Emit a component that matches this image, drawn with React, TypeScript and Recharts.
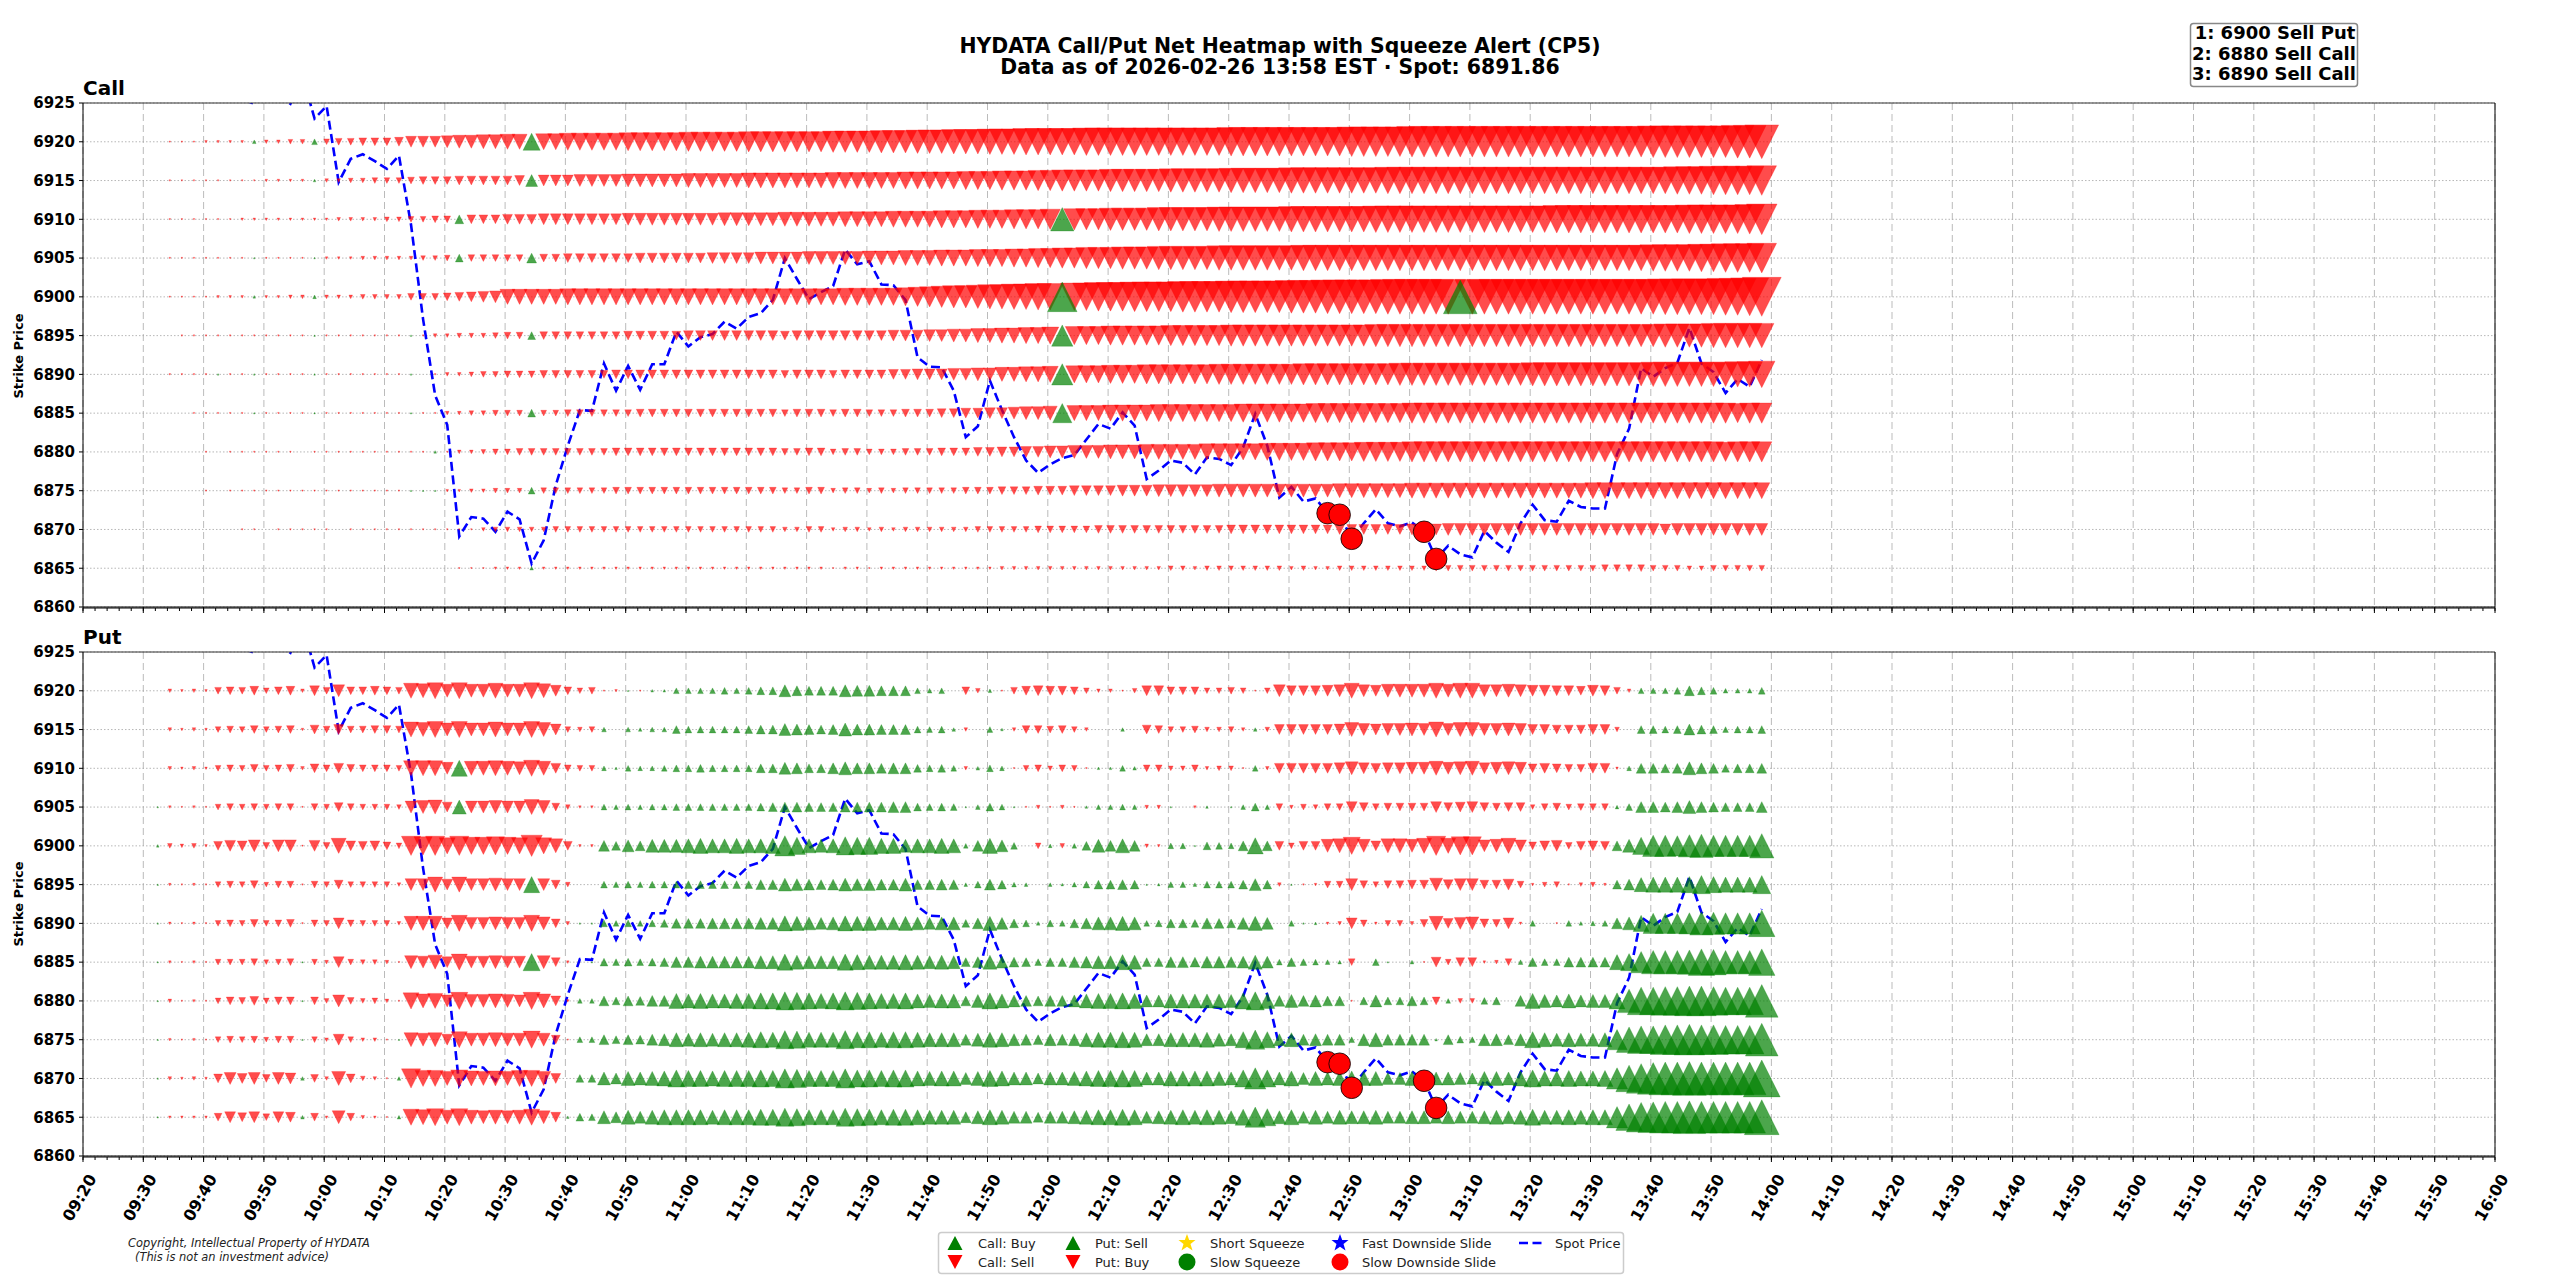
import { CartesianGrid, ComposedChart, Line, Scatter, XAxis, YAxis } from 'recharts';

// trading minutes since midnight, one reading every 2 minutes (09:32 .. 13:58)
const minutes = [
  572, 574, 576, 578, 580, 582, 584, 586, 588, 590, 592, 594, 596, 598,
  600, 602, 604, 606, 608, 610, 612, 614, 616, 618, 620, 622, 624, 626, 628, 630, 632, 634, 636, 638, 640, 642, 644, 646, 648, 650, 652, 654, 656, 658,
  660, 662, 664, 666, 668, 670, 672, 674, 676, 678, 680, 682, 684, 686, 688, 690, 692, 694, 696, 698, 700, 702, 704, 706, 708, 710, 712, 714, 716, 718,
  720, 722, 724, 726, 728, 730, 732, 734, 736, 738, 740, 742, 744, 746, 748, 750, 752, 754, 756, 758, 760, 762, 764, 766, 768, 770, 772, 774, 776, 778,
  780, 782, 784, 786, 788, 790, 792, 794, 796, 798, 800, 802, 804, 806, 808, 810, 812, 814, 816, 818, 820, 822, 824, 826, 828, 830, 832, 834, 836, 838,
];
// readings sit a little after the minute mark
const STAMP_OFFSET = 0.4;

const spot = [
  6930, 6929, 6928, 6927.5, 6927, 6926.5, 6926, 6925.5, 6924.9, 6926.5, 6926, 6924.9, 6928.5, 6923,
  6924.6, 6914.8, 6917.8, 6918.4, 6917.5, 6916.5, 6918.2, 6909.3, 6897.1, 6887.3, 6883.5, 6869.1, 6871.6, 6871.4, 6869.7, 6872.3, 6871.3, 6865.6, 6868.6, 6875.7, 6880.8, 6885.4, 6885.3, 6891.4, 6887.9, 6891.1, 6888, 6891.3, 6891.3, 6895.5,
  6893.6, 6894.8, 6895.2, 6896.8, 6895.9, 6897.4, 6897.9, 6899.6, 6905, 6902.3, 6899.7, 6900.6, 6901.4, 6906.1, 6904.2, 6904.6, 6901.6, 6901.5, 6899.6, 6892.2, 6891, 6890.9, 6887.9, 6881.9, 6883.3, 6889.2, 6885.4, 6881.9, 6878.9, 6877.3,
  6878.4, 6879.2, 6879.6, 6881.6, 6883.6, 6883, 6885.1, 6883.4, 6876.5, 6877.6, 6878.9, 6878.6, 6877.1, 6879.3, 6879.1, 6878.3, 6880.6, 6884.9, 6880.8, 6874.1, 6875.5, 6873.6, 6874, 6872.1, 6871.9, 6868.8, 6870.8, 6872.6, 6870.8, 6870.4,
  6870.9, 6869.7, 6866.2, 6867.9, 6866.8, 6866.4, 6869.8, 6868.3, 6867.1, 6870.8, 6873.2, 6871.2, 6871, 6873.7, 6872.9, 6872.7, 6872.7, 6879.7, 6883, 6890.8, 6889.7, 6890.8, 6891.5, 6896, 6891.4, 6890.3, 6887.6, 6889.4, 6888.4, 6891.86,
];

const slideMinutes = [766, 768, 770, 782, 784];
const slideSpot = [6872.1, 6871.9, 6868.8, 6869.7, 6866.2];

const strikes = [6920, 6915, 6910, 6905, 6900, 6895, 6890, 6885, 6880, 6875, 6870, 6865];
const strikeTicks = [6860, 6865, 6870, 6875, 6880, 6885, 6890, 6895, 6900, 6905, 6910, 6915, 6920, 6925];
const timeTicks = [560, 570, 580, 590, 600, 610, 620, 630, 640, 650, 660, 670, 680, 690, 700, 710, 720, 730, 740, 750, 760, 770, 780, 790, 800, 810, 820, 830, 840, 850, 860, 870, 880, 890, 900, 910, 920, 930, 940, 950, 960];
const timeLabels = ['09:20', '09:30', '09:40', '09:50', '10:00', '10:10', '10:20', '10:30', '10:40', '10:50', '11:00', '11:10', '11:20', '11:30', '11:40', '11:50', '12:00', '12:10', '12:20', '12:30', '12:40', '12:50', '13:00', '13:10', '13:20', '13:30', '13:40', '13:50', '14:00', '14:10', '14:20', '14:30', '14:40', '14:50', '15:00', '15:10', '15:20', '15:30', '15:40', '15:50', '16:00'];
const minorTicks = Array.from({ length: 201 }, (_, i) => 560 + i * 2);

const call6920 = [
  0, -1, -1, -1, -2, -2, -2, -2, 3, -3, -3, -4, -4, 5,
  -5, -6, -6, -7, -7, -7, -8, -10, -10, -10, -11, -12, -12, -13, -13, -14, -14, 16, -15, -15, -16, -16, -16, -16, -16, -17, -17, -17, -17, -17,
  -18, -18, -18, -18, -18, -19, -19, -19, -19, -19, -19, -19, -20, -20, -20, -20, -21, -21, -21, -22, -22, -22, -23, -23, -23, -24, -24, -24, -25, -25,
  -25, -25, -25, -26, -26, -26, -26, -26, -26, -26, -26, -26, -26, -26, -26, -27, -27, -27, -27, -27, -27, -27, -27, -27, -27, -28, -28, -28, -28, -28,
  -29, -29, -29, -29, -29, -29, -29, -29, -29, -29, -29, -29, -29, -29, -29, -29, -29, -29, -29, -29, -30, -30, -30, -30, -30, -30, -30, -31, -31, -32,
];
const call6915 = [
  0, -1, -1, -1, -1, -1, -1, -1, -1, -2, -2, -2, -2, 2,
  -3, -3, -4, -4, -5, -5, -5, -6, -7, -7, -7, -8, -8, -8, -8, -8, -9, 11, -10, -10, -10, -11, -11, -11, -11, -12, -12, -12, -12, -12,
  -13, -13, -13, -13, -13, -14, -14, -14, -14, -14, -14, -14, -15, -15, -15, -15, -15, -15, -16, -16, -16, -16, -16, -17, -17, -17, -18, -18, -18, -19,
  -19, -20, -20, -20, -20, -21, -21, -21, -21, -21, -22, -22, -22, -22, -22, -23, -23, -23, -23, -23, -24, -24, -24, -24, -24, -24, -24, -24, -25, -25,
  -25, -25, -25, -25, -25, -25, -25, -25, -25, -25, -25, -25, -25, -25, -25, -25, -25, -25, -25, -25, -25, -25, -26, -26, -26, -27, -27, -27, -27, -28,
];
const call6910 = [
  0, -1, -1, -1, -1, -1, -1, -2, -2, -2, -2, -2, -2, -2,
  -2, -3, -3, -3, -3, -4, -4, -5, -5, -6, -6, 8, -8, -8, -8, -9, -9, -9, -10, -10, -10, -10, -10, -10, -10, -11, -11, -11, -11, -11,
  -11, -11, -11, -12, -12, -12, -12, -12, -13, -13, -13, -13, -13, -14, -14, -14, -14, -15, -15, -15, -15, -16, -16, -16, -17, -17, -17, -18, -18, -18,
  -19, 22, -20, -20, -20, -21, -21, -21, -21, -22, -22, -22, -22, -22, -23, -23, -23, -23, -23, -23, -24, -24, -24, -24, -24, -24, -24, -25, -25, -25,
  -25, -25, -25, -25, -25, -25, -25, -25, -25, -25, -25, -25, -26, -26, -26, -26, -26, -26, -26, -26, -26, -26, -26, -27, -27, -27, -27, -27, -28, -29,
];
const call6905 = [
  0, -1, -1, -1, -1, -1, -1, -1, 1, -1, -1, -1, -1, 1,
  -2, -2, -2, -3, -3, -3, -3, -3, -4, -4, -5, 7, -6, -6, -6, -6, -6, 9, -7, -7, -8, -8, -8, -8, -8, -8, -9, -9, -9, -9,
  -9, -9, -10, -10, -10, -10, -11, -11, -11, -11, -12, -12, -12, -12, -12, -13, -13, -13, -14, -14, -14, -15, -15, -15, -16, -16, -16, -17, -17, -18,
  -18, -19, -19, -20, -20, -20, -21, -21, -21, -22, -22, -22, -22, -22, -23, -23, -23, -23, -23, -23, -23, -24, -24, -24, -24, -24, -24, -24, -24, -24,
  -24, -24, -24, -24, -24, -24, -24, -24, -24, -24, -24, -24, -24, -24, -24, -24, -24, -24, -24, -24, -25, -25, -25, -25, -26, -26, -27, -27, -27, -28,
];
const call6900 = [
  0, -1, -1, -1, -1, -2, -2, -2, 2, -2, -2, -3, -3, 3,
  -3, -3, -3, -4, -4, -4, -4, -6, -6, -6, -7, -8, -9, -10, -11, -14, -14, -14, -14, -14, -15, -15, -15, -15, -15, -15, -15, -15, -15, -15,
  -15, -15, -15, -15, -15, -15, -15, -15, -15, -15, -15, -15, -15, -16, -16, -16, -16, -16, -17, -18, -19, -20, -21, -21, -22, -23, -23, -24, -24, -25,
  -25, 28, -26, -26, -27, -27, -27, -28, -28, -28, -28, -29, -29, -29, -29, -30, -30, -30, -30, -30, -31, -31, -31, -32, -32, -32, -32, -32, -33, -33,
  -33, -33, -33, -33, 32, -33, -33, -33, -33, -33, -33, -33, -33, -33, -33, -33, -33, -33, -33, -33, -33, -34, -34, -34, -34, -34, -35, -35, -36, -37,
];
const call6895 = [
  0, 0, -1, -1, -1, -1, -1, -1, -1, -1, -1, -1, -1, 1,
  -1, -1, -1, -1, -1, -1, -1, 1, -1, -3, -3, -4, -4, -4, -5, -6, -6, 7, -7, -7, -7, -7, -7, -7, -7, -8, -8, -8, -8, -8,
  -9, -9, -9, -9, -9, -9, -9, -9, -8, -9, -9, -9, -9, -9, -9, -9, -9, -10, -10, -10, -11, -11, -12, -12, -13, -13, -14, -14, -15, -15,
  -16, 20, -17, -17, -17, -18, -18, -18, -18, -18, -19, -19, -19, -19, -19, -20, -20, -20, -20, -20, -20, -20, -20, -20, -20, -20, -20, -21, -21, -21,
  -21, -21, -21, -21, -21, -21, -21, -21, -21, -21, -21, -21, -21, -21, -21, -21, -21, -21, -21, -21, -21, -22, -22, -22, -22, -23, -23, -23, -23, -23,
];
const call6890 = [
  0, -1, -1, -1, -1, 1, -1, -1, 1, -1, -1, -1, -1, 1,
  -1, -1, -1, -1, -1, -1, -1, 1, 0, -1, -3, -3, -4, -5, -5, -6, -6, -6, -7, -7, -7, -7, -7, -7, -8, -8, -8, -8, -8, -8,
  -8, -8, -8, -8, -8, -8, -8, -8, -7, -8, -8, -8, -7, -8, -8, -8, -8, -9, -9, -10, -10, -10, -11, -11, -12, -12, -13, -13, -14, -14,
  -15, 20, -16, -16, -16, -17, -17, -17, -18, -18, -18, -18, -18, -18, -19, -19, -19, -19, -19, -19, -19, -20, -20, -20, -20, -20, -20, -20, -20, -21,
  -21, -21, -21, -21, -21, -21, -21, -21, -21, -21, -22, -22, -22, -22, -22, -22, -22, -22, -22, -22, -23, -23, -23, -23, -23, -23, -23, -24, -24, -25,
];
const call6885 = [
  0, 0, 0, -1, -1, -1, -1, -1, 1, -1, -1, -1, -1, 1,
  -1, -1, -1, -1, -1, -1, -1, 1, -1, -1, -3, -3, -4, -4, -5, -5, -5, 7, -5, -5, -6, -6, -6, -6, -6, -6, -7, -7, -7, -7,
  -7, -7, -7, -7, -7, -7, -7, -7, -6, -7, -7, -7, -6, -7, -7, -6, -6, -6, -7, -7, -7, -8, -8, -9, -9, -10, -10, -11, -12, -12,
  -13, 18, -14, -14, -14, -15, -15, -15, -15, -16, -16, -16, -16, -16, -16, -16, -17, -17, -17, -17, -17, -17, -18, -18, -18, -18, -18, -18, -18, -18,
  -19, -19, -19, -19, -19, -19, -19, -19, -19, -19, -19, -19, -19, -19, -19, -19, -19, -19, -19, -19, -19, -19, -19, -19, -19, -19, -19, -18, -19, -19,
];
const call6880 = [
  0, 0, 0, 0, -1, 0, -1, -1, -1, -1, -1, -1, 0, -1,
  -1, -1, -1, -1, -1, -1, -1, -1, -1, 2, -1, -3, -3, -4, -5, -5, -6, -6, -6, -6, -6, -6, -6, -6, -7, -7, -7, -7, -7, -7,
  -7, -7, -7, -7, -7, -7, -7, -7, -6, -6, -7, -7, -5, -6, -6, -5, -5, -5, -6, -6, -6, -7, -7, -7, -8, -8, -9, -9, -10, -10,
  -11, -11, -12, -12, -12, -13, -13, -13, -14, -14, -14, -14, -14, -15, -15, -15, -15, -15, -16, -16, -16, -16, -17, -17, -17, -17, -18, -18, -18, -18,
  -19, -19, -19, -19, -19, -19, -19, -19, -19, -19, -19, -19, -19, -19, -19, -19, -19, -19, -19, -19, -19, -19, -19, -19, -19, -19, -18, -19, -19, -19,
];
const call6875 = [
  0, 0, 0, 0, -1, 0, -1, -1, -1, -1, -1, -1, -1, -1,
  -1, -1, -1, -1, -1, -1, -1, 1, 1, 1, -2, -2, -3, -3, -4, -4, -4, 6, -5, -5, -5, -5, -5, -5, -6, -6, -6, -6, -6, -6,
  -6, -6, -6, -6, -6, -6, -6, -6, -5, -5, -6, -6, -4, -5, -5, -4, -5, -4, -5, -5, -5, -5, -5, -6, -6, -6, -7, -7, -7, -8,
  -8, -8, -9, -9, -9, -9, -10, -10, -10, -11, -11, -11, -11, -11, -12, -12, -12, -12, -12, -12, -12, -12, -12, -12, -13, -13, -13, -13, -13, -13,
  -14, -14, -14, -14, -14, -14, -14, -14, -14, -14, -14, -14, -14, -14, -14, -15, -15, -15, -15, -15, -15, -15, -15, -15, -15, -15, -15, -15, -15, -15,
];
const call6870 = [
  0, 0, 0, 0, 0, 0, 0, -1, -1, 0, -1, -1, -1, -1,
  -1, 0, -1, -1, -1, -1, -1, -1, -1, -1, -1, -1, -1, -3, -4, -4, -4, -4, -4, -5, -5, -5, -5, -5, -5, -5, -5, -5, -5, -5,
  -5, -5, -5, -5, -5, -5, -5, -5, -4, -4, -5, -5, -3, -4, -4, -3, -4, -3, -4, -4, -4, -4, -4, -4, -5, -5, -5, -5, -5, -6,
  -6, -6, -6, -6, -7, -7, -7, -7, -7, -7, -7, -7, -7, -7, -7, -8, -8, -8, -8, -8, -8, -8, -8, -8, -9, -9, -9, -9, -9, -9,
  -10, -10, -10, -11, -11, -11, -11, -11, -11, -11, -11, -11, -11, -11, -11, -11, -11, -11, -11, -11, -11, -10, -11, -11, -11, -11, -11, -11, -11, -11,
];
const call6865 = [
  0, 0, 0, 0, 0, 0, 0, 0, 0, 0, 0, 0, 0, 0,
  0, 0, 0, 0, 0, 0, 0, 0, 0, 0, 0, -1, -1, -1, -2, -2, -2, 3, -2, -2, -2, -2, -2, -2, -2, -2, -2, -2, -2, -2,
  -2, -2, -2, -2, -2, -2, -2, -2, -2, -2, -2, -2, -1, -2, -2, -1, -2, -2, -2, -2, -2, -2, -2, -2, -2, -2, -3, -3, -3, -3,
  -3, -3, -3, -3, -3, -3, -3, -3, -3, -3, -4, -4, -3, -4, -4, -4, -4, -4, -4, -4, -3, -4, -3, -3, -4, -4, -4, -4, -4, -4,
  -4, -4, -5, -5, -5, -5, -5, -5, -5, -5, -5, -5, -5, -5, -5, -5, -6, -6, -6, -6, -5, -5, -5, -4, -4, -5, -5, -5, -5, -5,
];

const put6920 = [
  0, -3, -2, -3, -2, -6, -7, -6, -8, -5, -7, -8, -3, -9, -6, -11, -7, -7, -8, -7, -6, -14, -13, -15, -12, -15, -12, -12, -14, -12, -12, -15, -13, -10, -7, -5, -6, -1, -2, 1, -1, 2, 2,
  5, 5, 5, 5, 6, 5, 6, 7, 7, 11, 9, 8, 8, 8, 11, 10, 10, 9, 9, 9, 5, 4, 5, 0, -7, -4, 3, -1, -6, -8, -9, -8, -8, -7, -5, -3, -3, -1, -4, -9, -9, -7, -7,
  -7, -5, -5, -6, -5, -1, -5, -11, -9, -9, -9, -10, -11, -14, -11, -10, -12, -12, -12, -12, -14, -12, -14, -14, -11, -11, -12, -11, -10, -10, -9, -9, -8, -10, -9, -6, -3, 5, 5, 5, 6, 9, 7, 6, 4, 4, 4, 6,
];
const put6915 = [
  0, -3, -2, -3, -2, -5, -6, -5, -7, -5, -6, -7, -2, -8, -6, -9, -6, -6, -7, -7, -6, -14, -13, -15, -12, -15, -12, -12, -14, -12, -12, -15, -13, -10, -5, -4, -5, 4, 0, 4, 3, 4, 4,
  7, 6, 6, 6, 6, 6, 7, 8, 8, 11, 10, 9, 8, 9, 12, 10, 10, 9, 9, 9, 6, 5, 6, 3, -3, 0, 5, 2, -3, -7, -7, -6, -7, -5, -3, 0, 0, 3, 0, -8, -7, -5, -5,
  -6, -4, -4, -5, -3, 3, -4, -9, -9, -9, -9, -9, -10, -13, -11, -10, -11, -11, -12, -11, -14, -11, -13, -13, -11, -11, -12, -11, -9, -9, -8, -8, -8, -9, -9, -4, 0, 7, 7, 6, 7, 10, 8, 7, 5, 6, 6, 7,
];
const put6910 = [
  0, -3, -2, -3, -2, -5, -6, -5, -7, -5, -6, -7, -3, -8, -6, -9, -7, -6, -6, -6, -5, -14, -14, -14, -11, 15, -13, -13, -14, -13, -12, -15, -13, -9, -6, -5, -5, 4, 2, 5, 4, 4, 5,
  6, 6, 7, 6, 6, 6, 6, 8, 8, 11, 10, 8, 8, 10, 12, 10, 10, 9, 10, 10, 7, 6, 7, 5, -3, 3, 6, 4, -1, -5, -6, -4, -6, -5, -1, 2, 2, 5, 3, -6, -6, -4, -4,
  -6, -3, -4, -4, -1, 5, -3, -9, -9, -9, -9, -9, -10, -12, -10, -9, -10, -10, -11, -11, -13, -11, -12, -13, -10, -11, -12, -11, -8, -9, -8, -7, -7, -9, -9, -2, 4, 9, 9, 8, 9, 12, 10, 9, 7, 8, 8, 9,
];
const put6905 = [
  1, -2, -1, -2, -1, -5, -6, -5, -6, -5, -6, -6, -1, -6, -5, -8, -6, -5, -5, -5, -4, -11, -12, -13, -9, 13, -11, -11, -12, -11, -11, -14, -12, -7, -4, -2, -2, 5, 4, 5, 4, 5, 5,
  6, 6, 6, 6, 6, 6, 6, 7, 8, 9, 9, 8, 8, 8, 9, 9, 9, 9, 10, 10, 7, 6, 7, 6, 1, 4, 7, 5, 1, -1, -3, -1, -3, -1, 2, 4, 4, 5, 4, -3, -3, 1, 0,
  -2, 2, 0, 1, 4, 7, 4, -6, -3, -5, -4, -6, -6, -10, -8, -6, -7, -7, -7, -7, -10, -8, -9, -10, -8, -7, -8, -8, -4, -6, -7, -5, -6, -6, -6, 3, 6, 10, 10, 9, 10, 12, 10, 9, 8, 8, 8, 10,
];
const put6900 = [
  2, -4, -3, -4, -2, -8, -10, -9, -11, -6, -11, -11, -1, -10, -6, -14, -9, -8, -9, -7, -5, -18, -17, -18, -15, -18, -16, -16, -17, -16, -15, -20, -15, -13, -8, -2, -2, 10, 8, 11, 9, 12, 12,
  12, 13, 14, 13, 13, 14, 13, 13, 14, 19, 16, 13, 12, 13, 17, 16, 16, 14, 14, 12, 13, 13, 14, 13, 4, 10, 14, 11, 6, 0, -5, 3, -4, 4, 8, 12, 10, 13, 10, -3, -2, 5, 5,
  1, 7, 6, 5, 9, 15, 9, -8, -5, -8, -8, -12, -13, -16, -12, -9, -13, -13, -12, -14, -18, -14, -17, -17, -11, -12, -14, -11, -7, -9, -10, -6, -8, -9, -8, 9, 12, 16, 20, 20, 19, 21, 22, 20, 20, 20, 20, 23,
];
const put6895 = [
  1, -2, -1, -2, -1, -5, -6, -5, -7, -4, -6, -6, -1, -6, -5, -8, -5, -5, -5, -5, -3, -11, -11, -14, -10, -14, -11, -11, -12, -11, -11, 15, -11, -8, -4, 0, 0, 6, 5, 6, 5, 6, 6,
  6, 7, 7, 7, 7, 7, 7, 9, 9, 12, 11, 10, 9, 10, 12, 11, 11, 10, 10, 12, 9, 9, 10, 9, 3, 6, 10, 8, 4, 3, 0, 3, 2, 4, 6, 8, 8, 9, 8, 1, 2, 5, 5,
  3, 6, 6, 6, 8, 11, 8, -3, 1, -1, -2, -6, -6, -11, -7, -5, -7, -7, -8, -8, -12, -9, -11, -11, -8, -8, -10, -6, -2, -4, -5, -1, -3, -4, -2, 8, 10, 13, 14, 14, 14, 15, 17, 15, 14, 14, 14, 17,
];
const put6890 = [
  1, -2, -1, -2, -1, -5, -6, -5, -7, -5, -6, -7, -1, -6, -5, -10, -6, -5, -5, -5, -3, -13, -13, -13, -10, -15, -11, -11, -12, -11, -11, -15, -12, -8, -3, 1, 1, 6, 5, 6, 5, 6, 7,
  9, 9, 9, 10, 10, 10, 10, 11, 11, 14, 13, 12, 11, 12, 14, 13, 13, 12, 12, 13, 12, 11, 12, 12, 7, 10, 13, 11, 8, 6, 3, 6, 5, 8, 10, 12, 12, 13, 12, 5, 6, 8, 8,
  7, 10, 9, 8, 11, 13, 11, 0, 5, 1, 2, -2, -3, -10, -6, -2, -5, -5, -3, -7, -13, -9, -11, -12, -8, -7, -10, -2, 5, 0, -1, 5, 3, 4, 5, 10, 12, 15, 19, 19, 19, 20, 22, 21, 20, 20, 20, 25,
];
const put6885 = [
  1, -2, -1, -2, -1, -5, -5, -5, -6, -4, -5, -6, 1, -5, -3, -10, -5, -4, -4, -3, -1, -12, -11, -13, -10, -15, -11, -11, -12, -11, -11, 16, -12, -8, -2, 0, 1, 7, 6, 7, 6, 7, 8,
  10, 10, 11, 11, 11, 11, 11, 12, 12, 15, 13, 12, 12, 12, 15, 14, 13, 13, 13, 14, 13, 12, 13, 12, 8, 10, 13, 11, 9, 8, 6, 8, 8, 10, 11, 12, 12, 14, 13, 8, 8, 10, 10,
  9, 11, 11, 10, 11, 13, 11, 5, 8, 6, 5, 4, 3, -6, 0, 6, 1, 0, 3, -1, -9, -5, -8, -8, -2, -3, -6, 4, 8, 6, 6, 9, 9, 9, 9, 14, 16, 20, 22, 22, 22, 23, 25, 24, 22, 22, 22, 25,
];
const put6880 = [
  1, -3, -1, -2, -1, -5, -7, -6, -8, -5, -7, -7, 1, -7, -4, -11, -6, -4, -5, -3, -1, -15, -13, -14, -11, -16, -12, -12, -13, -12, -11, -16, -13, -9, -2, 4, 4, 9, 7, 9, 8, 10, 10,
  14, 13, 14, 13, 13, 14, 14, 15, 15, 17, 16, 15, 14, 15, 17, 16, 15, 14, 14, 15, 13, 12, 13, 13, 9, 12, 15, 13, 11, 10, 9, 10, 10, 11, 13, 14, 14, 15, 14, 11, 11, 13, 13,
  13, 13, 13, 12, 15, 17, 14, 10, 12, 10, 11, 9, 9, -1, 7, 11, 7, 7, 9, 7, -7, 4, -4, -4, 6, 7, 0, 10, 14, 12, 11, 13, 11, 12, 12, 15, 22, 26, 26, 27, 27, 28, 28, 27, 26, 26, 26, 31,
];
const put6875 = [
  1, -2, -1, -2, -1, -5, -6, -5, -6, -4, -6, -6, 1, -5, -3, -10, -5, -3, -3, -1, 1, -13, -12, -13, -10, -15, -12, -12, -13, -12, -12, -16, -12, -8, -1, 5, 5, 9, 7, 9, 8, 10, 11,
  13, 12, 13, 12, 13, 13, 14, 15, 14, 17, 16, 14, 14, 14, 17, 15, 15, 14, 15, 15, 14, 13, 13, 13, 10, 12, 14, 13, 11, 10, 9, 11, 10, 11, 13, 14, 14, 15, 14, 11, 11, 13, 13,
  13, 14, 12, 11, 15, 18, 15, 11, 13, 10, 11, 10, 10, 5, 11, 13, 10, 10, 10, 10, 2, 9, 6, 5, 11, 11, 9, 11, 15, 13, 12, 13, 12, 12, 13, 19, 24, 26, 26, 28, 28, 29, 28, 28, 27, 27, 27, 31,
];
const put6870 = [
  1, -3, -2, -3, -2, -8, -11, -9, -11, -7, -11, -10, 3, -7, -3, -13, -8, -4, -3, -1, 3, -18, -15, -15, -13, -16, -14, -13, -14, -13, -15, -15, -13, -9, 0, 7, 7, 12, 10, 13, 12, 13, 14,
  16, 15, 15, 14, 15, 15, 15, 16, 15, 18, 17, 15, 15, 15, 18, 16, 16, 15, 16, 16, 14, 13, 14, 14, 11, 13, 15, 14, 12, 12, 10, 12, 12, 13, 14, 15, 15, 16, 15, 12, 12, 14, 14,
  14, 14, 13, 12, 16, 20, 16, 12, 14, 11, 13, 12, 13, 14, 13, 13, 11, 11, 13, 13, 12, 12, 11, 10, 13, 13, 12, 14, 16, 14, 14, 15, 14, 14, 15, 20, 25, 28, 30, 31, 31, 32, 31, 31, 31, 31, 31, 35,
];
const put6865 = [
  1, -2, -2, -2, -2, -7, -10, -8, -10, -6, -10, -9, 3, -7, -2, -12, -7, -3, -2, -1, 3, -15, -14, -16, -13, -16, -13, -12, -13, -12, -13, -15, -12, -9, 2, 7, 6, 12, 10, 13, 11, 13, 14,
  14, 14, 14, 13, 14, 14, 14, 15, 15, 17, 16, 14, 14, 14, 17, 16, 15, 14, 15, 15, 14, 13, 13, 13, 10, 12, 14, 13, 11, 11, 9, 11, 11, 12, 13, 14, 14, 15, 14, 11, 12, 13, 14,
  13, 14, 13, 12, 15, 19, 16, 12, 14, 11, 13, 11, 13, 12, 12, 13, 11, 11, 12, 12, 11, 12, 11, 11, 12, 13, 12, 13, 15, 13, 13, 14, 13, 14, 14, 20, 25, 28, 29, 30, 30, 31, 30, 30, 30, 30, 30, 33,
];

const callRows = [call6920, call6915, call6910, call6905, call6900, call6895, call6890, call6885, call6880, call6875, call6870, call6865];
const putRows = [put6920, put6915, put6910, put6905, put6900, put6895, put6890, put6885, put6880, put6875, put6870, put6865];

const spotData = minutes.map((t, i) => ({ t: t + STAMP_OFFSET, spot: spot[i] }));
const slideData = slideMinutes.map((t, i) => ({ t: t + STAMP_OFFSET, spot: slideSpot[i] }));

function buildMarks(rows: number[][]) {
  const marks: { t: number; strike: number; net: number }[] = [];
  rows.forEach((row, r) => {
    row.forEach((net, i) => {
      if (net !== 0) marks.push({ t: minutes[i] + STAMP_OFFSET, strike: strikes[r], net });
    });
  });
  return marks;
}

const RED = '#ff0000';
const GREEN = '#008000';

function FlowMark(props: any) {
  const { cx, cy, payload } = props;
  const w = Math.abs(payload.net) * 1.04 + 0.5;
  const h = w / 2;
  const color = payload.net > 0 ? GREEN : RED;
  const d = payload.net > 0
    ? `M${cx - h},${cy + h}L${cx + h},${cy + h}L${cx},${cy - h}Z`
    : `M${cx - h},${cy - h}L${cx + h},${cy - h}L${cx},${cy + h}Z`;
  return <path d={d} fill={color} fillOpacity={0.7} stroke={color} strokeOpacity={0.25} strokeWidth={1} />;
}

function SlideMark(props: any) {
  return <circle cx={props.cx} cy={props.cy} r={10.8} fill={RED} stroke="#000" strokeWidth={0.8} />;
}

function TimeTick(props: any) {
  const { x, y, payload } = props;
  const idx = timeTicks.indexOf(payload.value);
  const cy = y + 34;
  return (
    <text
      x={x - 3}
      y={cy}
      dy={5}
      textAnchor="middle"
      transform={`rotate(-60 ${x - 3} ${cy})`}
      fontSize={16}
      fontWeight="bold"
      fontFamily="DejaVu Sans"
      fill="#000"
    >
      {timeLabels[idx]}
    </text>
  );
}

function NoTick() {
  return <g />;
}

const strikeTickStyle = { fontSize: 15, fontWeight: 'bold', fontFamily: 'DejaVu Sans', fill: '#000' };

function Panel({ top, height, marginTop, marginBottom, rows, labels }: any) {
  const marks = buildMarks(rows);
  const sells = marks.filter((m) => m.net < 0);
  const buys = marks.filter((m) => m.net > 0);
  return (
    <div style={{ position: 'absolute', left: 0, top }}>
      <ComposedChart
        width={2560}
        height={height}
        margin={{ top: marginTop, right: 64, bottom: marginBottom, left: 82 }}
      >
        <CartesianGrid vertical={false} stroke="#999" strokeOpacity={0.7} strokeDasharray="1.5 2" syncWithTicks />
        <CartesianGrid horizontal={false} stroke="#aaa" strokeOpacity={0.8} strokeDasharray="7 4" syncWithTicks />
        <XAxis
          dataKey="t"
          type="number"
          domain={[560, 960]}
          ticks={timeTicks}
          interval={0}
          allowDataOverflow
          height={1}
          stroke="#000"
          tickSize={6}
          tick={labels ? <TimeTick /> : <NoTick />}
        />
        <XAxis
          xAxisId="minor"
          dataKey="t"
          type="number"
          domain={[560, 960]}
          ticks={minorTicks}
          interval={0}
          allowDataOverflow
          height={1}
          stroke="#000"
          tickSize={3}
          tick={<NoTick />}
        />
        <XAxis
          xAxisId="frame"
          orientation="top"
          dataKey="t"
          type="number"
          domain={[560, 960]}
          height={1}
          stroke="#333"
          tick={false}
          tickLine={false}
        />
        <YAxis
          type="number"
          domain={[6860, 6925]}
          ticks={strikeTicks}
          interval={0}
          allowDataOverflow
          width={1}
          stroke="#000"
          tickSize={4}
          tickMargin={4}
          tick={strikeTickStyle}
        />
        <YAxis
          yAxisId="right"
          orientation="right"
          type="number"
          domain={[6860, 6925]}
          ticks={strikeTicks}
          interval={0}
          width={1}
          stroke="#000"
          tickSize={4}
          tickMargin={4}
          tick={strikeTickStyle}
        />
        <Scatter data={sells} dataKey="strike" shape={<FlowMark />} isAnimationActive={false} />
        <Scatter data={buys} dataKey="strike" shape={<FlowMark />} isAnimationActive={false} />
        <Line
          data={spotData}
          dataKey="spot"
          stroke="#0000ff"
          strokeWidth={2.6}
          strokeDasharray="9 4.5"
          dot={false}
          activeDot={false}
          isAnimationActive={false}
        />
        <Scatter data={slideData} dataKey="spot" shape={<SlideMark />} isAnimationActive={false} />
      </ComposedChart>
    </div>
  );
}

const sans = 'DejaVu Sans';

function Annotations() {
  const legendText = { fontSize: 13, fontFamily: sans, fill: '#222' };
  const upTri = (x: number, y: number, c: string) => <path d={`M${x - 7.5},${y + 7}L${x + 7.5},${y + 7}L${x},${y - 7}Z`} fill={c} />;
  const downTri = (x: number, y: number, c: string) => <path d={`M${x - 7.5},${y - 7}L${x + 7.5},${y - 7}L${x},${y + 7}Z`} fill={c} />;
  const star = (x: number, y: number, c: string) => (
    <path
      d={`M${x},${y - 9}L${x + 2.2},${y - 3}L${x + 8.5},${y - 3}L${x + 3.5},${y + 1}L${x + 5.5},${y + 7.5}L${x},${y + 3.8}L${x - 5.5},${y + 7.5}L${x - 3.5},${y + 1}L${x - 8.5},${y - 3}L${x - 2.2},${y - 3}Z`}
      fill={c}
    />
  );
  return (
    <svg width={2560} height={1280} style={{ position: 'absolute', left: 0, top: 0 }}>
      <g fontFamily={sans} fontWeight="bold" fontSize={20.4} textAnchor="middle" fill="#000">
        <text x={1280} y={53}>HYDATA Call/Put Net Heatmap with Squeeze Alert (CP5)</text>
        <text x={1280} y={74}>Data as of 2026-02-26 13:58 EST · Spot: 6891.86</text>
      </g>
      <text x={83} y={95} fontFamily={sans} fontWeight="bold" fontSize={20}>Call</text>
      <text x={83} y={644} fontFamily={sans} fontWeight="bold" fontSize={20}>Put</text>
      <g fontFamily={sans} fontWeight="bold" fontSize={13} textAnchor="middle" fill="#000">
        <text transform="translate(23 356) rotate(-90)">Strike Price</text>
        <text transform="translate(23 904) rotate(-90)">Strike Price</text>
      </g>

      <rect x={2190.5} y={23.5} width={167} height={63} rx={3} fill="#fff" stroke="#888" strokeWidth={1.5} />
      <g fontFamily={sans} fontWeight="bold" fontSize={18} textAnchor="middle" fill="#000">
        <text x={2275} y={39}>1: 6900 Sell Put</text>
        <text x={2274} y={60}>2: 6880 Sell Call</text>
        <text x={2274} y={80}>3: 6890 Sell Call</text>
      </g>

      <g fontFamily={sans} fontStyle="italic" fontSize={11.4} fill="#222">
        <text x={128} y={1247}>Copyright, Intellectual Property of HYDATA</text>
        <text x={135} y={1261}>(This is not an investment advice)</text>
      </g>

      <rect x={938.5} y={1232.5} width={685} height={41} rx={3} fill="#fff" stroke="#ccc" strokeWidth={1.5} />
      {upTri(955, 1243, GREEN)}
      {downTri(955, 1262, RED)}
      {upTri(1073, 1243, GREEN)}
      {downTri(1073, 1262, RED)}
      {star(1187, 1243, '#ffd700')}
      <circle cx={1187} cy={1262} r={8.5} fill={GREEN} />
      {star(1340, 1243, '#0000ff')}
      <circle cx={1340} cy={1262} r={8.5} fill={RED} />
      <line x1={1519} x2={1542} y1={1243} y2={1243} stroke="#0000ff" strokeWidth={2.6} strokeDasharray="9 4.5" />
      <text x={978} y={1248} {...legendText}>Call: Buy</text>
      <text x={978} y={1267} {...legendText}>Call: Sell</text>
      <text x={1095} y={1248} {...legendText}>Put: Sell</text>
      <text x={1095} y={1267} {...legendText}>Put: Buy</text>
      <text x={1210} y={1248} {...legendText}>Short Squeeze</text>
      <text x={1210} y={1267} {...legendText}>Slow Squeeze</text>
      <text x={1362} y={1248} {...legendText}>Fast Downside Slide</text>
      <text x={1362} y={1267} {...legendText}>Slow Downside Slide</text>
      <text x={1555} y={1248} {...legendText}>Spot Price</text>
    </svg>
  );
}

export default function App() {
  return (
    <div style={{ position: 'absolute', left: 0, top: 0, width: 2560, height: 1280, background: '#fff', overflow: 'hidden' }}>
      <Annotations />
      <Panel top={0} height={640} marginTop={102} marginBottom={31} rows={callRows} labels={false} />
      <Panel top={552} height={728} marginTop={99} marginBottom={122} rows={putRows} labels />
    </div>
  );
}
